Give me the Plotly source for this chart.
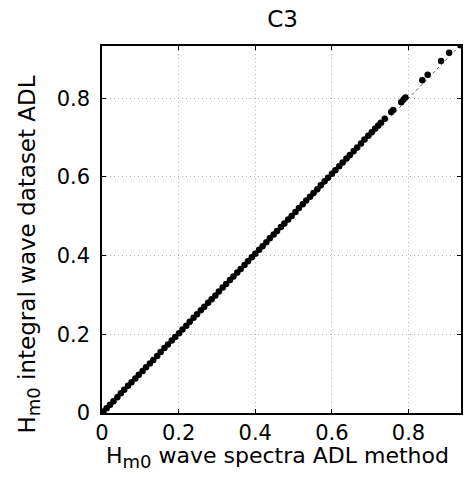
import plotly.graph_objects as go

# Data (H_m0 values, metres)
hm0_spectra = [0.004, 0.012, 0.021, 0.030, 0.040, 0.049, 0.058, 0.068, 0.077, 0.087,
               0.096, 0.106, 0.115, 0.125, 0.134, 0.144, 0.153, 0.163, 0.172, 0.182,
               0.191, 0.201, 0.210, 0.220, 0.229, 0.239, 0.248, 0.258, 0.267, 0.277,
               0.286, 0.296, 0.305, 0.315, 0.324, 0.334, 0.343, 0.353, 0.362, 0.372,
               0.381, 0.391, 0.400, 0.410, 0.419, 0.429, 0.438, 0.448, 0.457, 0.467,
               0.476, 0.486, 0.495, 0.505, 0.514, 0.524, 0.533, 0.543, 0.552, 0.562,
               0.571, 0.581, 0.590, 0.600, 0.609, 0.619, 0.628, 0.638, 0.647, 0.657,
               0.666, 0.676, 0.685, 0.695, 0.704, 0.713, 0.721, 0.728, 0.738, 0.755,
               0.760, 0.781, 0.787, 0.792, 0.836, 0.850, 0.885, 0.906, 0.935]
hm0_integral = [0.004, 0.012, 0.021, 0.030, 0.040, 0.050, 0.059, 0.069, 0.078, 0.088,
                0.097, 0.107, 0.116, 0.126, 0.135, 0.145, 0.155, 0.165, 0.174, 0.184,
                0.193, 0.203, 0.212, 0.222, 0.232, 0.242, 0.251, 0.261, 0.270, 0.280,
                0.289, 0.299, 0.309, 0.319, 0.328, 0.338, 0.347, 0.357, 0.366, 0.376,
                0.386, 0.396, 0.405, 0.415, 0.424, 0.434, 0.444, 0.454, 0.463, 0.473,
                0.482, 0.492, 0.501, 0.511, 0.521, 0.531, 0.540, 0.550, 0.559, 0.569,
                0.579, 0.589, 0.598, 0.608, 0.617, 0.627, 0.637, 0.647, 0.656, 0.666,
                0.675, 0.685, 0.695, 0.705, 0.714, 0.723, 0.731, 0.738, 0.748, 0.765,
                0.770, 0.790, 0.797, 0.802, 0.846, 0.860, 0.895, 0.916, 0.935]
assert len(hm0_spectra) == len(hm0_integral)

ref_line = [0.0, 0.94]
tick_vals = [0, 0.2, 0.4, 0.6, 0.8]
tick_text = ["0", "0.2", "0.4", "0.6", "0.8"]

FONT = "DejaVu Sans"
L, R, T, B = 102, 1, 46, 80
W, H = 464, 493
PW, PH = W - L - R, H - T - B

fig = go.Figure()
fig.add_trace(go.Scatter(x=ref_line, y=ref_line, mode="lines",
                         line=dict(color="#555555", width=1, dash="dot"),
                         showlegend=False, hoverinfo="skip"))
fig.add_trace(go.Scatter(x=hm0_spectra, y=hm0_integral, mode="markers",
                         marker=dict(color="black", size=6.5),
                         showlegend=False))

axis_common = dict(
    showline=True, linecolor="black", linewidth=1.5, mirror="ticks",
    ticks="inside", ticklen=4, tickcolor="black",
    showgrid=True, gridcolor="#b5b5b5", gridwidth=1, griddash="1px,3px",
    zeroline=False, tickvals=tick_vals, ticktext=tick_text,
    tickfont=dict(size=21, color="black", family=FONT),
)

sub = '<sub><span style="font-size:18px">m0</span></sub>'

fig.update_layout(
    width=W, height=H,
    margin=dict(l=L, r=R, t=T, b=B),
    paper_bgcolor="white", plot_bgcolor="white",
    font=dict(family=FONT, color="black"),
    title=dict(text="C3", x=(L + W - R) / 2 / W, xanchor="center",
               y=1 - 19 / H, yanchor="middle",
               font=dict(size=23, color="black", family=FONT)),
    xaxis=dict(range=[0, 0.937], ticklabelstandoff=0, **axis_common),
    yaxis=dict(range=[0, 0.933], ticklabelstandoff=6, **axis_common),
    annotations=[
        dict(text="H" + sub + " wave spectra ADL method",
             xref="paper", yref="paper", x=(278 - L) / PW,
             y=-(457 - (H - B)) / PH,
             xanchor="center", yanchor="middle", showarrow=False,
             font=dict(size=22, color="black", family=FONT)),
        dict(text="H" + sub + " integral wave dataset ADL",
             xref="paper", yref="paper", x=-(L - 12) / PW,
             y=((H - B) - 254) / PH,
             xanchor="left", yanchor="middle", textangle=-90, showarrow=False,
             font=dict(size=23, color="black", family=FONT)),
    ],
)

fig.write_html("out.html")
